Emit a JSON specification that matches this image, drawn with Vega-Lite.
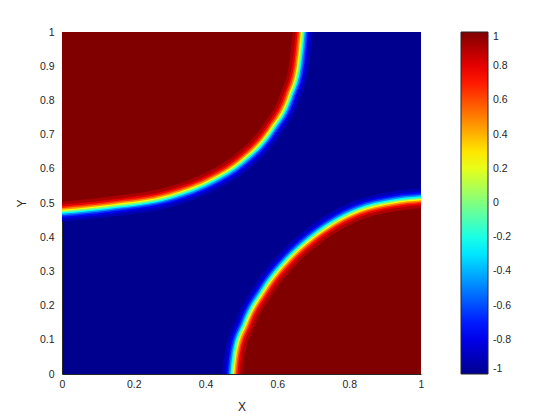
{
  "$schema": "https://vega.github.io/schema/vega-lite/v6.json",
  "width": 359,
  "height": 342,
  "autosize": {"type": "none"},
  "padding": {"left": 62, "top": 32, "right": 139, "bottom": 46},
  "background": "white",
  "config": {
    "view": {"fill": "#00008F", "stroke": null},
    "font": "Liberation Sans",
    "axis": {"labelFont": "Liberation Sans", "labelFontSize": 10.5, "labelColor": "#262626", "titleFont": "Liberation Sans", "titleFontSize": 12, "titleColor": "#262626", "titleFontWeight": "normal", "grid": false, "ticks": false, "domainColor": "#262626", "domainWidth": 1, "labelFlush": false, "labelOverlap": false, "format": "~g"}
  },
  "datasets": {
    "tl": [
      {"k":"a01","v":-0.913,"x":0,"y":0.4454},{"k":"a01","v":-0.913,"x":0.1375,"y":0.4603},{"k":"a01","v":-0.913,"x":0.3078,"y":0.4901},{"k":"a01","v":-0.913,"x":0.4334,"y":0.5409},{"k":"a01","v":-0.913,"x":0.5139,"y":0.5939},{"k":"a01","v":-0.913,"x":0.6064,"y":0.696},{"k":"a01","v":-0.913,"x":0.6608,"y":0.7996},{"k":"a01","v":-0.913,"x":0.6883,"y":0.9029},{"k":"a01","v":-0.913,"x":0.6984,"y":1},
      {"k":"a02","v":-0.797,"x":0,"y":0.4541},{"k":"a02","v":-0.797,"x":0.1364,"y":0.4689},{"k":"a02","v":-0.797,"x":0.3057,"y":0.4986},{"k":"a02","v":-0.797,"x":0.4298,"y":0.5488},{"k":"a02","v":-0.797,"x":0.5085,"y":0.6005},{"k":"a02","v":-0.797,"x":0.5997,"y":0.7012},{"k":"a02","v":-0.797,"x":0.6531,"y":0.803},{"k":"a02","v":-0.797,"x":0.6801,"y":0.9046},{"k":"a02","v":-0.797,"x":0.69,"y":1},
      {"k":"a03","v":-0.648,"x":0,"y":0.46},{"k":"a03","v":-0.648,"x":0.1356,"y":0.4747},{"k":"a03","v":-0.648,"x":0.3043,"y":0.5043},{"k":"a03","v":-0.648,"x":0.4274,"y":0.5541},{"k":"a03","v":-0.648,"x":0.5049,"y":0.605},{"k":"a03","v":-0.648,"x":0.5952,"y":0.7047},{"k":"a03","v":-0.648,"x":0.648,"y":0.8052},{"k":"a03","v":-0.648,"x":0.6747,"y":0.9057},{"k":"a03","v":-0.648,"x":0.6844,"y":1},
      {"k":"a04","v":-0.462,"x":0,"y":0.4644},{"k":"a04","v":-0.462,"x":0.135,"y":0.4791},{"k":"a04","v":-0.462,"x":0.3032,"y":0.5085},{"k":"a04","v":-0.462,"x":0.4256,"y":0.5581},{"k":"a04","v":-0.462,"x":0.5021,"y":0.6083},{"k":"a04","v":-0.462,"x":0.5919,"y":0.7074},{"k":"a04","v":-0.462,"x":0.6441,"y":0.8069},{"k":"a04","v":-0.462,"x":0.6706,"y":0.9065},{"k":"a04","v":-0.462,"x":0.6803,"y":1},
      {"k":"a05","v":-0.24,"x":0,"y":0.4688},{"k":"a05","v":-0.24,"x":0.1345,"y":0.4834},{"k":"a05","v":-0.24,"x":0.3022,"y":0.5127},{"k":"a05","v":-0.24,"x":0.4238,"y":0.562},{"k":"a05","v":-0.24,"x":0.4994,"y":0.6117},{"k":"a05","v":-0.24,"x":0.5886,"y":0.71},{"k":"a05","v":-0.24,"x":0.6402,"y":0.8086},{"k":"a05","v":-0.24,"x":0.6665,"y":0.9074},{"k":"a05","v":-0.24,"x":0.6761,"y":1},
      {"k":"a06","v":0,"x":0,"y":0.4726},{"k":"a06","v":0,"x":0.134,"y":0.4872},{"k":"a06","v":0,"x":0.3013,"y":0.5164},{"k":"a06","v":0,"x":0.4222,"y":0.5655},{"k":"a06","v":0,"x":0.4971,"y":0.6145},{"k":"a06","v":0,"x":0.5857,"y":0.7123},{"k":"a06","v":0,"x":0.6369,"y":0.81},{"k":"a06","v":0,"x":0.6629,"y":0.9081},{"k":"a06","v":0,"x":0.6725,"y":1},
      {"k":"a07","v":0.24,"x":0,"y":0.4766},{"k":"a07","v":0.24,"x":0.1334,"y":0.4912},{"k":"a07","v":0.24,"x":0.3003,"y":0.5204},{"k":"a07","v":0.24,"x":0.4206,"y":0.5691},{"k":"a07","v":0.24,"x":0.4945,"y":0.6177},{"k":"a07","v":0.24,"x":0.5825,"y":0.7147},{"k":"a07","v":0.24,"x":0.6333,"y":0.8116},{"k":"a07","v":0.24,"x":0.6591,"y":0.9089},{"k":"a07","v":0.24,"x":0.6685,"y":1},
      {"k":"a08","v":0.462,"x":0,"y":0.4804},{"k":"a08","v":0.462,"x":0.1329,"y":0.495},{"k":"a08","v":0.462,"x":0.2994,"y":0.5241},{"k":"a08","v":0.462,"x":0.419,"y":0.5726},{"k":"a08","v":0.462,"x":0.4922,"y":0.6205},{"k":"a08","v":0.462,"x":0.5796,"y":0.717},{"k":"a08","v":0.462,"x":0.63,"y":0.813},{"k":"a08","v":0.462,"x":0.6555,"y":0.9096},{"k":"a08","v":0.462,"x":0.6649,"y":1},
      {"k":"a09","v":0.648,"x":0,"y":0.4848},{"k":"a09","v":0.648,"x":0.1324,"y":0.4993},{"k":"a09","v":0.648,"x":0.2984,"y":0.5283},{"k":"a09","v":0.648,"x":0.4172,"y":0.5765},{"k":"a09","v":0.648,"x":0.4895,"y":0.6239},{"k":"a09","v":0.648,"x":0.5763,"y":0.7196},{"k":"a09","v":0.648,"x":0.6261,"y":0.8147},{"k":"a09","v":0.648,"x":0.6514,"y":0.9105},{"k":"a09","v":0.648,"x":0.6607,"y":1},
      {"k":"a10","v":0.797,"x":0,"y":0.4892},{"k":"a10","v":0.797,"x":0.1318,"y":0.5037},{"k":"a10","v":0.797,"x":0.2973,"y":0.5326},{"k":"a10","v":0.797,"x":0.4154,"y":0.5805},{"k":"a10","v":0.797,"x":0.4867,"y":0.6272},{"k":"a10","v":0.797,"x":0.573,"y":0.7223},{"k":"a10","v":0.797,"x":0.6222,"y":0.8164},{"k":"a10","v":0.797,"x":0.6473,"y":0.9113},{"k":"a10","v":0.797,"x":0.6566,"y":1},
      {"k":"a11","v":0.913,"x":0,"y":0.4951},{"k":"a11","v":0.913,"x":0.131,"y":0.5095},{"k":"a11","v":0.913,"x":0.2959,"y":0.5382},{"k":"a11","v":0.913,"x":0.413,"y":0.5858},{"k":"a11","v":0.913,"x":0.4831,"y":0.6317},{"k":"a11","v":0.913,"x":0.5685,"y":0.7258},{"k":"a11","v":0.913,"x":0.6171,"y":0.8186},{"k":"a11","v":0.913,"x":0.6419,"y":0.9124},{"k":"a11","v":0.913,"x":0.651,"y":1},
      {"k":"a12","v":1,"x":0,"y":0.5038},{"k":"a12","v":1,"x":0.1299,"y":0.5182},{"k":"a12","v":1,"x":0.2938,"y":0.5467},{"k":"a12","v":1,"x":0.4094,"y":0.5937},{"k":"a12","v":1,"x":0.4777,"y":0.6383},{"k":"a12","v":1,"x":0.5618,"y":0.731},{"k":"a12","v":1,"x":0.6094,"y":0.822},{"k":"a12","v":1,"x":0.6337,"y":0.9141},{"k":"a12","v":1,"x":0.6426,"y":1}
    ],
    "br": [
      {"k":"b01","v":-0.913,"x":0.4464,"y":0},{"k":"b01","v":-0.913,"x":0.4529,"y":0.0577},{"k":"b01","v":-0.913,"x":0.4842,"y":0.1599},{"k":"b01","v":-0.913,"x":0.5376,"y":0.262},{"k":"b01","v":-0.913,"x":0.6144,"y":0.3626},{"k":"b01","v":-0.913,"x":0.6687,"y":0.4146},{"k":"b01","v":-0.913,"x":0.737,"y":0.4657},{"k":"b01","v":-0.913,"x":0.8159,"y":0.507},{"k":"b01","v":-0.913,"x":0.9133,"y":0.5325},{"k":"b01","v":-0.913,"x":1,"y":0.5429},
      {"k":"b02","v":-0.797,"x":0.4548,"y":0},{"k":"b02","v":-0.797,"x":0.461,"y":0.0556},{"k":"b02","v":-0.797,"x":0.4918,"y":0.1564},{"k":"b02","v":-0.797,"x":0.5445,"y":0.2571},{"k":"b02","v":-0.797,"x":0.6206,"y":0.3567},{"k":"b02","v":-0.797,"x":0.6739,"y":0.4078},{"k":"b02","v":-0.797,"x":0.7413,"y":0.4581},{"k":"b02","v":-0.797,"x":0.8187,"y":0.4988},{"k":"b02","v":-0.797,"x":0.9148,"y":0.5239},{"k":"b02","v":-0.797,"x":1,"y":0.5342},
      {"k":"b03","v":-0.648,"x":0.4604,"y":0},{"k":"b03","v":-0.648,"x":0.4664,"y":0.0542},{"k":"b03","v":-0.648,"x":0.4969,"y":0.154},{"k":"b03","v":-0.648,"x":0.5492,"y":0.2538},{"k":"b03","v":-0.648,"x":0.6248,"y":0.3528},{"k":"b03","v":-0.648,"x":0.6774,"y":0.4032},{"k":"b03","v":-0.648,"x":0.7441,"y":0.4531},{"k":"b03","v":-0.648,"x":0.8206,"y":0.4933},{"k":"b03","v":-0.648,"x":0.9159,"y":0.5182},{"k":"b03","v":-0.648,"x":1,"y":0.5283},
      {"k":"b04","v":-0.462,"x":0.4645,"y":0},{"k":"b04","v":-0.462,"x":0.4704,"y":0.0531},{"k":"b04","v":-0.462,"x":0.5008,"y":0.1523},{"k":"b04","v":-0.462,"x":0.5526,"y":0.2513},{"k":"b04","v":-0.462,"x":0.6279,"y":0.3498},{"k":"b04","v":-0.462,"x":0.68,"y":0.3998},{"k":"b04","v":-0.462,"x":0.7463,"y":0.4494},{"k":"b04","v":-0.462,"x":0.822,"y":0.4891},{"k":"b04","v":-0.462,"x":0.9166,"y":0.5139},{"k":"b04","v":-0.462,"x":1,"y":0.5239},
      {"k":"b05","v":-0.24,"x":0.4687,"y":0},{"k":"b05","v":-0.24,"x":0.4745,"y":0.052},{"k":"b05","v":-0.24,"x":0.5046,"y":0.1505},{"k":"b05","v":-0.24,"x":0.5561,"y":0.2489},{"k":"b05","v":-0.24,"x":0.631,"y":0.3469},{"k":"b05","v":-0.24,"x":0.6826,"y":0.3964},{"k":"b05","v":-0.24,"x":0.7484,"y":0.4456},{"k":"b05","v":-0.24,"x":0.8234,"y":0.485},{"k":"b05","v":-0.24,"x":0.9174,"y":0.5095},{"k":"b05","v":-0.24,"x":1,"y":0.5195},
      {"k":"b06","v":0,"x":0.4723,"y":0},{"k":"b06","v":0,"x":0.478,"y":0.0511},{"k":"b06","v":0,"x":0.5079,"y":0.149},{"k":"b06","v":0,"x":0.5591,"y":0.2467},{"k":"b06","v":0,"x":0.6337,"y":0.3444},{"k":"b06","v":0,"x":0.6849,"y":0.3934},{"k":"b06","v":0,"x":0.7503,"y":0.4424},{"k":"b06","v":0,"x":0.8246,"y":0.4814},{"k":"b06","v":0,"x":0.918,"y":0.5058},{"k":"b06","v":0,"x":1,"y":0.5157},
      {"k":"b07","v":0.24,"x":0.4763,"y":0},{"k":"b07","v":0.24,"x":0.4818,"y":0.0501},{"k":"b07","v":0.24,"x":0.5115,"y":0.1474},{"k":"b07","v":0.24,"x":0.5623,"y":0.2445},{"k":"b07","v":0.24,"x":0.6365,"y":0.3416},{"k":"b07","v":0.24,"x":0.6873,"y":0.3902},{"k":"b07","v":0.24,"x":0.7523,"y":0.4388},{"k":"b07","v":0.24,"x":0.826,"y":0.4776},{"k":"b07","v":0.24,"x":0.9188,"y":0.5018},{"k":"b07","v":0.24,"x":1,"y":0.5117},
      {"k":"b08","v":0.462,"x":0.4799,"y":0},{"k":"b08","v":0.462,"x":0.4853,"y":0.0492},{"k":"b08","v":0.462,"x":0.5148,"y":0.1459},{"k":"b08","v":0.462,"x":0.5653,"y":0.2423},{"k":"b08","v":0.462,"x":0.6392,"y":0.3391},{"k":"b08","v":0.462,"x":0.6896,"y":0.3872},{"k":"b08","v":0.462,"x":0.7542,"y":0.4356},{"k":"b08","v":0.462,"x":0.8272,"y":0.474},{"k":"b08","v":0.462,"x":0.9194,"y":0.4981},{"k":"b08","v":0.462,"x":1,"y":0.5079},
      {"k":"b09","v":0.648,"x":0.4841,"y":0},{"k":"b09","v":0.648,"x":0.4894,"y":0.0481},{"k":"b09","v":0.648,"x":0.5186,"y":0.1441},{"k":"b09","v":0.648,"x":0.5688,"y":0.2399},{"k":"b09","v":0.648,"x":0.6423,"y":0.3362},{"k":"b09","v":0.648,"x":0.6922,"y":0.3838},{"k":"b09","v":0.648,"x":0.7563,"y":0.4318},{"k":"b09","v":0.648,"x":0.8286,"y":0.4699},{"k":"b09","v":0.648,"x":0.9202,"y":0.4937},{"k":"b09","v":0.648,"x":1,"y":0.5035},
      {"k":"b10","v":0.797,"x":0.4882,"y":0},{"k":"b10","v":0.797,"x":0.4934,"y":0.047},{"k":"b10","v":0.797,"x":0.5225,"y":0.1424},{"k":"b10","v":0.797,"x":0.5722,"y":0.2374},{"k":"b10","v":0.797,"x":0.6455,"y":0.3332},{"k":"b10","v":0.797,"x":0.6948,"y":0.3804},{"k":"b10","v":0.797,"x":0.7585,"y":0.4281},{"k":"b10","v":0.797,"x":0.83,"y":0.4657},{"k":"b10","v":0.797,"x":0.921,"y":0.4894},{"k":"b10","v":0.797,"x":1,"y":0.4991},
      {"k":"b11","v":0.913,"x":0.4938,"y":0},{"k":"b11","v":0.913,"x":0.4988,"y":0.0456},{"k":"b11","v":0.913,"x":0.5276,"y":0.14},{"k":"b11","v":0.913,"x":0.5769,"y":0.2341},{"k":"b11","v":0.913,"x":0.6496,"y":0.3293},{"k":"b11","v":0.913,"x":0.6983,"y":0.3758},{"k":"b11","v":0.913,"x":0.7613,"y":0.4231},{"k":"b11","v":0.913,"x":0.8319,"y":0.4602},{"k":"b11","v":0.913,"x":0.922,"y":0.4837},{"k":"b11","v":0.913,"x":1,"y":0.4932},
      {"k":"b12","v":1,"x":0.5022,"y":0},{"k":"b12","v":1,"x":0.5069,"y":0.0435},{"k":"b12","v":1,"x":0.5352,"y":0.1365},{"k":"b12","v":1,"x":0.5838,"y":0.2292},{"k":"b12","v":1,"x":0.6558,"y":0.3234},{"k":"b12","v":1,"x":0.7035,"y":0.369},{"k":"b12","v":1,"x":0.7656,"y":0.4155},{"k":"b12","v":1,"x":0.8347,"y":0.452},{"k":"b12","v":1,"x":0.9235,"y":0.4751},{"k":"b12","v":1,"x":1,"y":0.4845}
    ]
  },
  "encoding": {
    "x": {"field": "x", "type": "quantitative", "scale": {"domain": [0, 1], "nice": false, "zero": false}, "axis": {"values": [0, 0.2, 0.4, 0.6, 0.8, 1], "title": "X", "labelPadding": 5, "titlePadding": 12}},
    "y": {"field": "y", "type": "quantitative", "stack": null, "scale": {"domain": [0, 1], "nice": false, "zero": false}, "axis": {"values": [0, 0.1, 0.2, 0.3, 0.4, 0.5, 0.6, 0.7, 0.8, 0.9, 1], "title": "Y", "labelPadding": 8, "titlePadding": 11}},
    "color": {
      "field": "v", "type": "quantitative",
      "scale": {"domain": [-1, -0.75, -0.25, 0.25, 0.75, 1], "range": ["#00008F", "#0000FF", "#00FFFF", "#FFFF00", "#FF0000", "#800000"], "interpolate": "rgb"},
      "legend": {"orient": "none", "legendX": 399, "legendY": 0, "direction": "vertical", "gradientLength": 342, "gradientThickness": 27, "title": null, "values": [1, 0.8, 0.6, 0.4, 0.2, 0, -0.2, -0.4, -0.6, -0.8, -1], "labelFont": "Liberation Sans", "labelFontSize": 10.5, "labelColor": "#262626", "labelOffset": 5, "labelOverlap": false, "gradientStrokeColor": "#262626", "gradientStrokeWidth": 1, "labelExpr": "replace(format(datum.value, '~g'), '\u2212', '-')", "encode": {"labels": {"update": {"baseline": {"value": "middle"}}}}}
    },
    "detail": {"field": "k", "type": "nominal"}
  },
  "layer": [
    {"data": {"name": "tl"}, "mark": {"type": "area", "opacity": 1, "clip": true, "interpolate": "monotone"}, "encoding": {"y2": {"datum": 1}}},
    {"data": {"name": "br"}, "mark": {"type": "area", "opacity": 1, "clip": true, "interpolate": "monotone"}, "encoding": {"y2": {"datum": 0}}}
  ]
}
